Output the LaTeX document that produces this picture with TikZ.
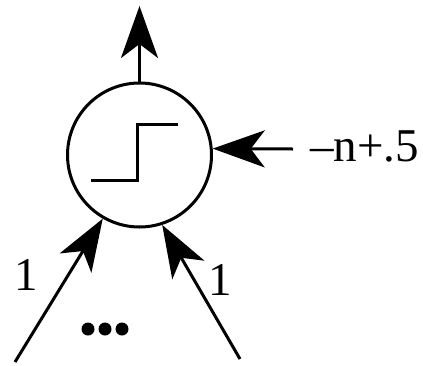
\documentclass[tikz,border=0pt]{standalone}
\usepackage{fontspec}
\setmainfont{Liberation Serif}
\usetikzlibrary{arrows.meta}
\begin{document}
\begin{tikzpicture}[x=1pt,y=-1pt,
  wire/.style={line width=3pt,-{Stealth[length=52pt,width=37pt,inset=14pt]}},
  lbl/.style={font=\fontsize{47}{54}\selectfont, inner sep=0pt}]
\useasboundingbox (0,0) rectangle (423,365);
\node[circle, draw, line width=3pt, minimum size=144pt, inner sep=0pt] (c) at (139.5,155) {};
% step function
\draw[line width=3pt] (91,180) -- (137,180) -- (137,124.5) -- (178,124.5);
% connectors
\coordinate (top) at (139.5,6);
\coordinate (rin) at (293,149);
\coordinate (llin) at (15,362);
\coordinate (lrin) at (240,359);
\draw[wire] (c.north) -- (top);
\draw[wire] (rin) -- (c.5);
\draw[wire] (llin) -- (c.240);
\draw[wire] (lrin) -- (c.288);
% labels
\node[lbl, anchor=base west] (bias) at (310,161) {–n+.5};
\node[lbl] (w1) at (26,275) {1};
\node[lbl] (w2) at (220,280) {1};
% dots
\fill (88,329) circle (6.5pt) (105,329) circle (6.5pt) (122,329) circle (6.5pt);
\end{tikzpicture}
\end{document}
